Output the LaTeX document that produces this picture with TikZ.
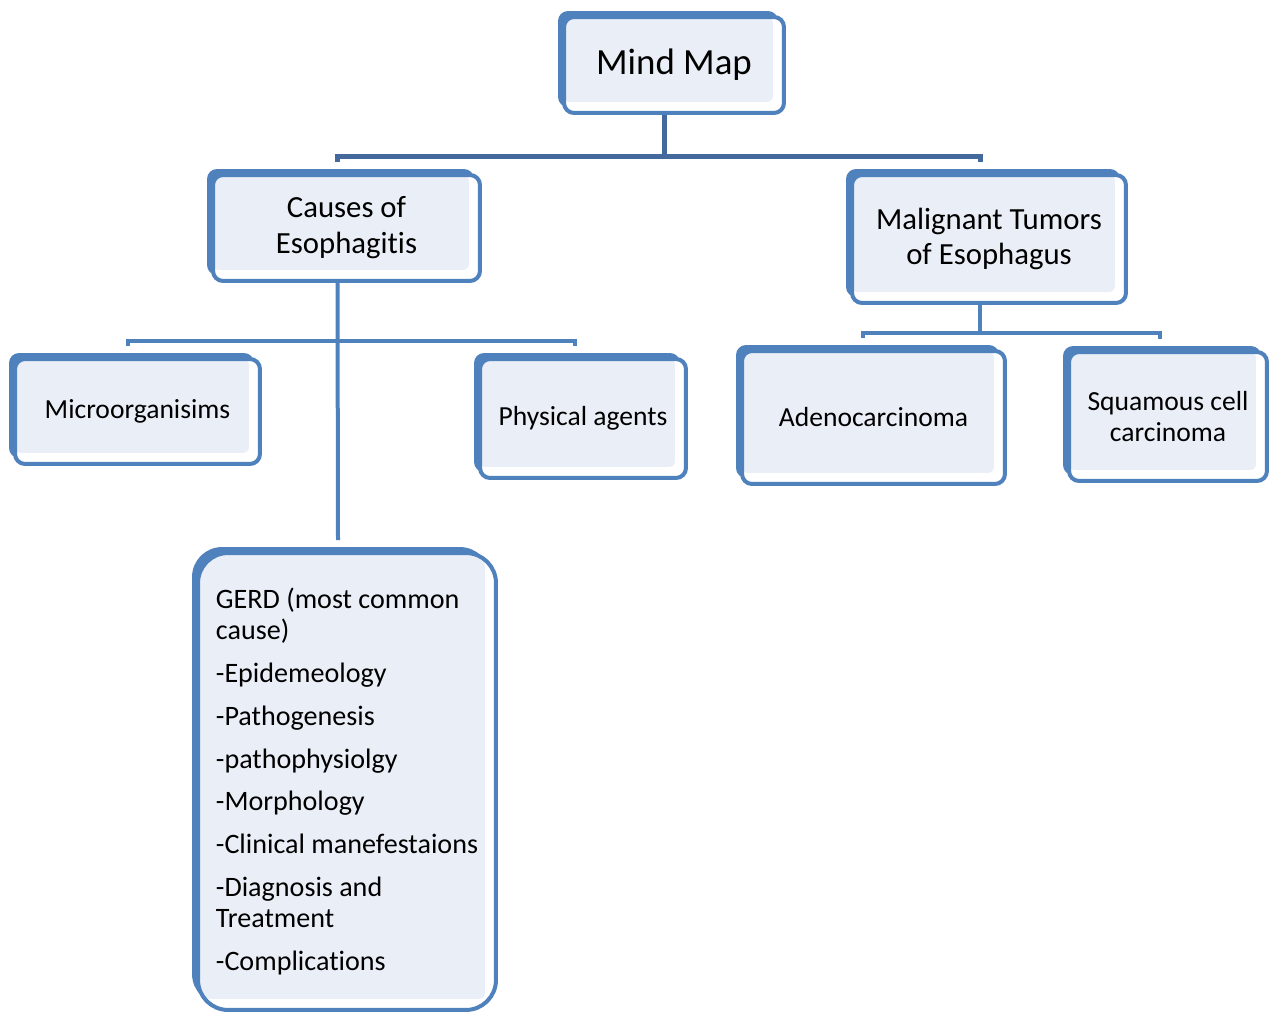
\documentclass[tikz,border=0pt]{standalone}
\usepackage{fontspec}
\setmainfont{Carlito}[Ligatures={NoCommon,NoContextual}]
\usepackage{tikz}
\usetikzlibrary{positioning,calc}
\definecolor{mapblue}{RGB}{79,129,189}
\definecolor{darkline}{RGB}{68,105,156}
\definecolor{mapfill}{RGB}{234,239,247}

\begin{document}
\begin{tikzpicture}[x=0.02cm,y=-0.02cm,
    box/.style={rectangle,draw=mapblue,line width=0.08cm,fill=white,rounded corners=0.2cm,
      align=center,inner sep=0pt,font=\fontsize{15.7}{17.6}\selectfont,
      preaction={fill=mapblue,transform canvas={shift={(-0.12cm,0.12cm)}}},
      path picture={\fill[mapfill,rounded corners=0.12cm] (path picture bounding box.north west)
        rectangle ([shift={(-0.22cm,0.22cm)}]path picture bounding box.south east);}},
    big/.style={font=\fontsize{17.5}{20.4}\selectfont},
    link/.style={mapblue,line width=0.08cm},
    trunk/.style={darkline,line width=0.1cm}]

    \useasboundingbox (0,0) rectangle (1271,1013);

    \node[box,font=\fontsize{21}{24}\selectfont,minimum width=4.4cm,minimum height=1.92cm] (mindmap) at (674,65) {Mind Map};
    \node[box,big,minimum width=5.34cm,minimum height=2.12cm] (causes) at (346.5,228) {Causes of\\Esophagitis};
    \node[box,big,minimum width=5.48cm,minimum height=2.56cm] (malignant) at (989,239) {Malignant Tumors\\of Esophagus};
    \node[box,minimum width=4.9cm,minimum height=2.1cm] (micro) at (137.5,411.5) {Microorganisims};
    \node[box,minimum width=4.12cm,minimum height=2.38cm] (physical) at (583,418.5) {Physical agents};
    \node[box,minimum width=5.26cm,minimum height=2.66cm] (adeno) at (873.5,417.5) {Adenocarcinoma};
    \node[box,minimum width=3.96cm,minimum height=2.58cm] (squamous) at (1168,416.5) {Squamous cell\\carcinoma};
    \node[box,rounded corners=0.6cm,align=left,font=\fontsize{16}{17.6}\selectfont,
      minimum width=5.96cm,minimum height=9.14cm] (gerd) at (347,781.5)
      {GERD (most common\\cause)\\[6.8pt]
       -Epidemeology\\[6.8pt]
       -Pathogenesis\\[6.8pt]
       -pathophysiolgy\\[6.8pt]
       -Morphology\\[6.8pt]
       -Clinical manefestaions\\[6.8pt]
       -Diagnosis and\\Treatment\\[6.8pt]
       -Complications};

    % Top level
    \coordinate (busA) at (0,157);
    \draw[trunk] ([xshift=-0.2cm]mindmap.south) -- ([xshift=-0.2cm]mindmap.south |- busA);
    \draw[trunk] ([xshift=-0.18cm,yshift=0.22cm]causes.north) -- ([xshift=-0.18cm]causes.north |- busA)
      -- ([xshift=-0.18cm]malignant.north |- busA) -- ([xshift=-0.18cm,yshift=0.22cm]malignant.north);

    % Causes branch
    \coordinate (busB) at (0,341);
    \draw[link] ([xshift=-0.18cm]causes.south) -- ([xshift=-0.18cm,yshift=0.22cm]gerd.north);
    \draw[link] ([xshift=-0.19cm,yshift=0.22cm]micro.north) -- ([xshift=-0.19cm]micro.north |- busB)
      -- ([xshift=-0.16cm]physical.north |- busB) -- ([xshift=-0.16cm,yshift=0.22cm]physical.north);

    % Tumors branch
    \coordinate (busC) at (0,333);
    \draw[link] ([xshift=-0.18cm]malignant.south) -- ([xshift=-0.18cm]malignant.south |- busC);
    \draw[link] ([xshift=-0.21cm,yshift=0.22cm]adeno.north) -- ([xshift=-0.21cm]adeno.north |- busC)
      -- ([xshift=-0.16cm]squamous.north |- busC) -- ([xshift=-0.16cm,yshift=0.22cm]squamous.north);
\end{tikzpicture}
\end{document}
